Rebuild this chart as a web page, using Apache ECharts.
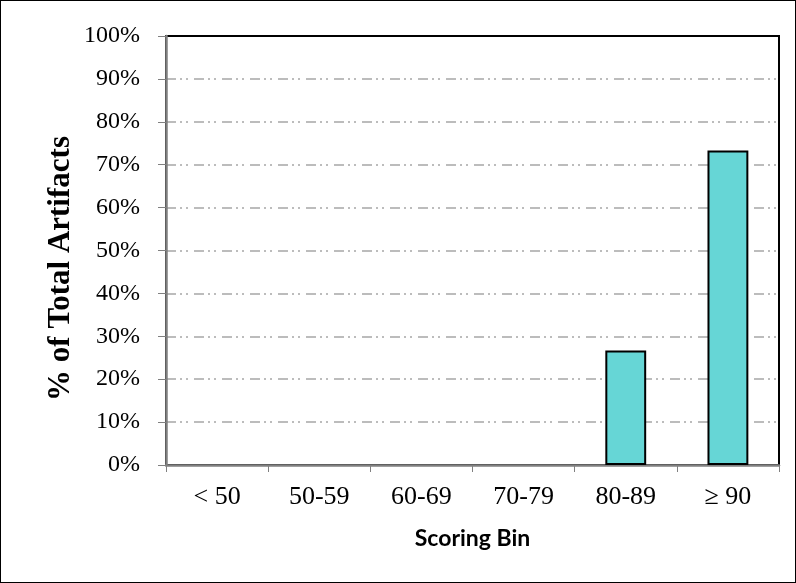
<!DOCTYPE html>
<html><head><meta charset="utf-8">
<script src="https://cdn.jsdelivr.net/npm/echarts@6/dist/echarts.min.js"></script>
<style>html,body{margin:0;padding:0;background:#fff}#c{width:796px;height:583px;box-sizing:border-box;border:1px solid #000}</style>
</head><body><div id="c"></div>
<script>
const categories = ['< 50', '50-59', '60-69', '70-79', '80-89', '\u2265 90'];
const values = [0, 0, 0, 0, 26.7, 73.3];
const yTicks = [0, 10, 20, 30, 40, 50, 60, 70, 80, 90, 100];

const chart = echarts.init(document.getElementById('c'), null, {renderer: 'canvas'});
chart.setOption({
  animation: false,
  grid: {left: 165, right: 16, top: 35, bottom: 117, show: true, borderColor: '#000', borderWidth: 2, backgroundColor: 'transparent'},
  xAxis: {
    type: 'category', data: categories,
    axisLine: {lineStyle: {color: '#808080', width: 2.5}},
    axisTick: {show: true, alignWithLabel: false, length: 7, lineStyle: {color: '#808080', width: 1}},
    axisLabel: {fontFamily: 'Liberation Serif', fontSize: 26, color: '#000', margin: 19},
    name: 'Scoring Bin', nameLocation: 'middle', nameGap: 62, nameMoveOverlap: false,
    nameTextStyle: {fontFamily: 'Lato', fontWeight: 'bold', fontSize: 23, color: '#000'}
  },
  yAxis: {
    type: 'value', min: 0, max: 100, interval: 10,
    axisLine: {show: true, lineStyle: {color: '#808080', width: 2.5}},
    axisTick: {show: true, length: 8, lineStyle: {color: '#808080', width: 1}},
    axisLabel: {fontFamily: 'Liberation Serif', fontSize: 24, color: '#000', margin: 26,
      formatter: v => yTicks.includes(v) ? v + '%' : ''},
    splitLine: {show: true, showMinLine: false, showMaxLine: false, lineStyle: {color: '#a6a6a6', width: 1.5, type: [10, 4, 2, 4, 2, 6]}},
    name: '% of Total Artifacts', nameLocation: 'middle', nameGap: 90, nameRotate: 90, nameMoveOverlap: false,
    nameTextStyle: {fontFamily: 'Liberation Serif', fontWeight: 'bold', fontSize: 31, color: '#000', padding: [0, 36, 0, 0]}
  },
  series: [{
    type: 'bar', data: values.map(v => v === 0 ? null : v), barWidth: '40%',
    itemStyle: {color: '#66D6D6', borderColor: '#000', borderWidth: 2}
  }]
});
</script></body></html>
